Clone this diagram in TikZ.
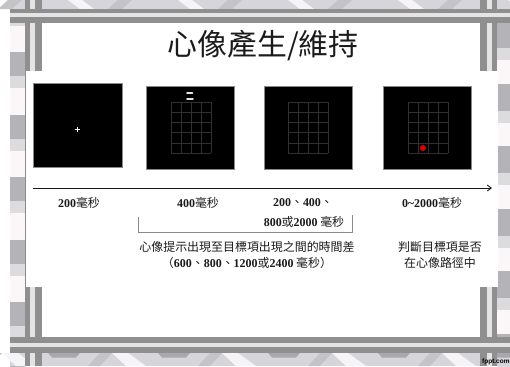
\documentclass[tikz,border=0pt]{standalone}
\usepackage{fontspec}
\setmainfont{Liberation Serif}
\newfontfamily\cjk{Noto Sans CJK TC}
\newfontfamily\serifnum{Liberation Serif}
\newfontfamily\sanslat{Liberation Sans}
\usetikzlibrary{arrows.meta}
\newcommand\dg[1]{{\serifnum\bfseries #1}}
\definecolor{bardark}{HTML}{8F8F8F}
\definecolor{barlight}{HTML}{E4E4E4}
\definecolor{stripegray}{HTML}{B4B4B8}
\definecolor{stripelight}{HTML}{DCDCDF}
\definecolor{stripewhite}{HTML}{FBF7F9}
\definecolor{chevdark}{HTML}{A9A9AD}
\definecolor{chevmid}{HTML}{C4C4C8}
\definecolor{chevbase}{HTML}{D6D6DA}
\definecolor{chevwhite}{HTML}{F6F4F6}
\definecolor{scrborder}{HTML}{8A8A8A}
\definecolor{gridc}{HTML}{303030}
\definecolor{textc}{HTML}{1A1A1A}
\definecolor{dotred}{HTML}{E00000}
\newcommand\drawcells[2]{%
  \foreach \i in {0,...,4}{\draw[gridline] ({#1+\i*10},#2) -- ({#1+\i*10},{#2+51});}
  \foreach \j in {0,...,5}{\draw[gridline] (#1,{#2+\j*10.2}) -- ({#1+40},{#2+\j*10.2});}%
}
\begin{document}
\begin{tikzpicture}[x=1bp,y=-1bp,
  screen/.style={draw=scrborder,line width=0.6bp,fill=black,minimum width=88bp,minimum height=83bp,inner sep=0,outer sep=0},
  lbl/.style={font=\cjk\fontsize{12}{14}\selectfont,text=textc,inner sep=0},
  gridline/.style={draw=gridc,line width=0.5bp},
  timeline/.style={draw=textc,line width=0.9bp,-{Straight Barb[length=4bp,width=6bp]}},
  bracketline/.style={draw=scrborder,line width=0.6bp}]
\useasboundingbox (0,0) rectangle (510,366);
\clip (0,0) rectangle (510,366);
\fill[white] (0,0) rectangle (510,366);
% side stripes
\fill[stripewhite] (10,0) rectangle (25,366);
\fill[stripewhite] (497,0) rectangle (510,366);
\foreach \k in {-1,...,6}{
  \fill[stripegray] (10,{52+62.5*\k}) rectangle (25,{76+62.5*\k});
  \fill[stripelight] (10,{76+62.5*\k}) rectangle (25,{88+62.5*\k});
  \fill[stripegray] (497,{21+62.5*\k}) rectangle (510,{48+62.5*\k});
  \fill[stripelight] (497,{48+62.5*\k}) rectangle (510,{60+62.5*\k});
}
% top and bottom strips
\fill[chevbase] (10,0) rectangle (510,9);
\fill[chevbase] (10,353) rectangle (510,366);
\foreach \k in {-1,...,4}{
  \pgfmathsetmacro\xo{48+110*\k}
  \fill[chevdark] (\xo,353) -- ({\xo+32},353) -- ({\xo+28},357.5) -- ({\xo+4},357.5) -- cycle;
  \fill[chevmid] ({\xo+40},366) -- ({\xo+52},353) -- ({\xo+64},353) -- ({\xo+52},366) -- cycle;
  \fill[chevwhite] ({\xo+64},353) -- ({\xo+80},353) -- ({\xo+98},366) -- ({\xo+78},366) -- cycle;
  \fill[chevwhite] ({\xo+20},0) -- ({\xo+34},0) -- ({\xo+46},9) -- ({\xo+32},9) -- cycle;
  \fill[chevmid] ({\xo+60},9) -- ({\xo+70},0) -- ({\xo+84},0) -- ({\xo+74},9) -- cycle;
}
% vertical bars
\fill[bardark] (25,0) rectangle (42,366);
\fill[barlight] (30,0) rectangle (35,366);
\fill[bardark] (480,0) rectangle (497,366);
\fill[barlight] (486.5,0) rectangle (491.5,366);
% content panel
\fill[white] (26,71) rectangle (498,287);
\draw[scrborder,line width=0.8bp] (25.8,71) -- (25.8,287);
% horizontal bars
\fill[bardark] (10,9) rectangle (510,23);
\fill[barlight] (10,13) rectangle (510,17);
\fill[bardark] (10,337) rectangle (510,353);
\fill[barlight] (10,342.5) rectangle (510,347);
\node[anchor=west,inner sep=0,font=\sanslat\bfseries\fontsize{6.5}{7}\selectfont] (brand) at (482,361.5) {fppt.com};
% title
\node[inner sep=0,text=textc,font=\cjk\fontsize{30}{34}\selectfont] (title) at (263,45) {心像產生/維持};
% screens
\node[screen,minimum width=89bp,minimum height=84bp] (s1) at (77.5,125) {};
\node[screen] (s2) at (190,127.5) {};
\node[screen] (s3) at (308,127.5) {};
\node[screen] (s4) at (427.5,127.5) {};
% fixation cross
\draw[white,line width=0.6bp] (74.5,129) -- (79.5,129);
\draw[white,line width=0.6bp] (77,126.5) -- (77,131.5);
% cue dashes
\draw[barlight,line width=1.8bp,line cap=round] (187,92.8) -- (192.5,92.8);
\draw[barlight,line width=1.8bp,line cap=round] (187,99.2) -- (193,99.2);
% grids
\drawcells{171}{102}
\drawcells{288}{102}
\drawcells{408}{102}
\fill[dotred] (423,148) circle (3bp);
% timeline
\coordinate (t0) at (33,188);
\coordinate (t1) at (492,188);
\draw[timeline] (t0) -- (t1);
% labels
\node[lbl] (l1) at (79,203) {\dg{200}毫秒};
\node[lbl] (l2) at (198,203) {\dg{400}毫秒};
\node[lbl] (l3a) at (303,203) {\dg{200}、\dg{400}、};
\node[lbl] (l3b) at (304,222) {\dg{800}或\dg{2000} 毫秒};
\node[lbl] (l4) at (432,203) {\dg{0\textasciitilde2000}毫秒};
% bracket
\coordinate (b1) at (138,217);
\coordinate (b2) at (138,232);
\coordinate (b3) at (352,232);
\coordinate (b4) at (352,215);
\draw[bracketline] (b1) -- (b2) -- (b3) -- (b4);
\node[lbl] (d1) at (247,247) {心像提示出現至目標項出現之間的時間差};
\node[lbl] (d2) at (247,263) {（\dg{600}、\dg{800}、\dg{1200}或\dg{2400} 毫秒）};
\node[lbl] (j1) at (440,247) {判斷目標項是否};
\node[lbl] (j2) at (440,263) {在心像路徑中};
\end{tikzpicture}
\end{document}
